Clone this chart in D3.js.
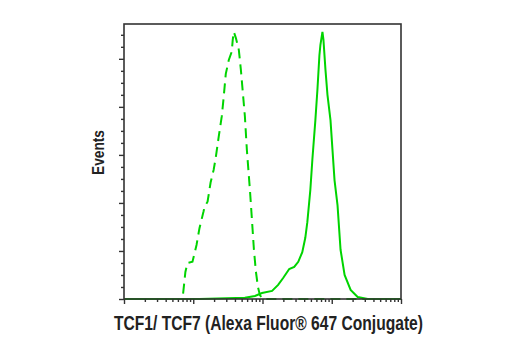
<!DOCTYPE html>
<html><head><meta charset="utf-8">
<script src="https://cdn.jsdelivr.net/npm/d3@7"></script>
<style>body{margin:0;background:#fff}svg{display:block}</style>
</head><body>
<script>
// Isotype control (dashed) – intensity and event counts
const controlX = [10, 70, 77, 82.5, 97.5, 111.5, 123, 141, 146, 161, 178, 197, 211, 233, 258, 275, 295, 326, 360, 372, 385, 412, 455, 487, 520, 557, 595, 658, 704, 752, 804, 860, 920, 1017, 3500, 100000];
const controlY = [0, 0, 22.5, 30, 31, 45, 59, 73, 77, 81, 97, 107.5, 117.5, 135, 152, 168, 187.5, 199, 206, 216, 222.5, 217.5, 207.5, 191, 172, 152, 124, 91, 66, 41, 22.5, 10, 3, 0, 0, 0];
// TCF1/TCF7 stained sample (solid)
const sampleX = [10, 123, 557, 778, 983, 1375, 1681, 1987, 2430, 2872, 3284, 3753, 4151, 4439, 4909, 5248, 5802, 6205, 6635, 6862, 7337, 7586, 8111, 8673, 9590, 10254, 10965, 12122, 13405, 15330, 18734, 23689, 33113, 100000];
const sampleY = [0, 0, 1, 2.5, 5, 6.7, 11.7, 17.5, 25, 26.7, 31, 39, 51, 64, 91, 116, 149, 174, 203, 211.7, 222.5, 216, 191, 170, 149, 124, 99, 78, 41, 20, 7.5, 1.7, 0, 0];
const xDomain = [10, 100000];
const yDomain = [0, 229];
const yMajorTicks = [0, 40, 80, 120, 160, 200];
const xLabel = "TCF1/ TCF7 (Alexa Fluor\u00AE 647 Conjugate)";
const yLabel = "Events";

const W = 520, H = 350;
const m = {left: 124, top: 24, right: 401, bottom: 299};
const svg = d3.select("body").append("svg").attr("width", W).attr("height", H);

const x = d3.scaleLog().domain(xDomain).range([m.left, m.right]);
const y = d3.scaleLinear().domain(yDomain).range([m.bottom, m.top]);

const green = "#00d400";
const line = d3.line().x(d => x(d[0])).y(d => y(d[1]));

// curves
svg.append("path").datum(controlX.map((v, i) => [v, controlY[i]]))
  .attr("d", line).attr("fill", "none").attr("stroke", green)
  .attr("stroke-width", 2).attr("stroke-dasharray", "10,6");
svg.append("path").datum(sampleX.map((v, i) => [v, sampleY[i]]))
  .attr("d", line).attr("fill", "none").attr("stroke", green)
  .attr("stroke-width", 2);

// frame
const axisColor = "#333";
svg.append("rect").attr("x", m.left).attr("y", m.top)
  .attr("width", m.right - m.left).attr("height", m.bottom - m.top)
  .attr("fill", "none").attr("stroke", axisColor).attr("stroke-width", 1.6);

// x ticks (log)
const xMinor = [];
const xMajor = [];
for (let e = 1; e <= 5; e++) {
  xMajor.push(Math.pow(10, e));
  if (e < 5) for (let k = 2; k <= 9; k++) xMinor.push(k * Math.pow(10, e));
}
const xAxisMinor = d3.axisBottom(x).tickValues(xMinor).tickSize(3).tickFormat("");
const xAxisMajor = d3.axisBottom(x).tickValues(xMajor).tickSize(5).tickFormat("");
[xAxisMinor, xAxisMajor].forEach(ax => {
  const g = svg.append("g").attr("transform", `translate(0,${m.bottom})`).call(ax);
  g.select(".domain").remove();
  g.selectAll("line").attr("stroke", axisColor).attr("stroke-width", 1.4);
});

// y ticks
const yMinor = d3.range(0, 230, 10).filter(v => !yMajorTicks.includes(v));
const yAxisMinor = d3.axisLeft(y).tickValues(yMinor).tickSize(3).tickFormat("");
const yAxisMajor = d3.axisLeft(y).tickValues(yMajorTicks).tickSize(5).tickFormat("");
[yAxisMinor, yAxisMajor].forEach(ax => {
  const g = svg.append("g").attr("transform", `translate(${m.left},0)`).call(ax);
  g.select(".domain").remove();
  g.selectAll("line").attr("stroke", axisColor).attr("stroke-width", 1.4);
});

// labels
const font = "'Liberation Sans', Arial, sans-serif";
svg.append("text").attr("x", 268.5).attr("y", 330)
  .attr("text-anchor", "middle").attr("font-family", font)
  .attr("font-weight", "bold").attr("font-size", 20).attr("fill", "#222")
  .attr("textLength", 309).attr("lengthAdjust", "spacingAndGlyphs")
  .text(xLabel);
svg.append("text").attr("transform", "translate(103.5,152.5) rotate(-90)")
  .attr("text-anchor", "middle").attr("font-family", font)
  .attr("font-weight", "bold").attr("font-size", 17).attr("fill", "#222")
  .attr("textLength", 45).attr("lengthAdjust", "spacingAndGlyphs")
  .text(yLabel);
</script>
</body></html>
